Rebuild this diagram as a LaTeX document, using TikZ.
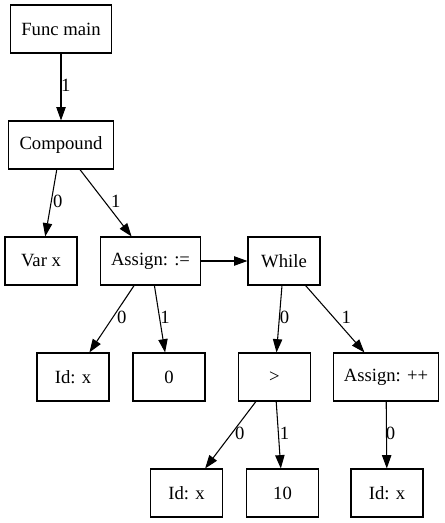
\documentclass[tikz,border=0pt]{standalone}
\usepackage{fontspec}
\setmainfont{Liberation Serif}
\usetikzlibrary{arrows.meta}
\tikzset{
	box/.style={draw=black, line width=0.8pt, minimum width=54pt, minimum height=36pt, inner xsep=8pt, font=\fontsize{14pt}{16pt}\selectfont},
	edge/.style={draw=black, line width=0.8pt, -{Triangle[length=10pt,width=7pt]}},
	lbl/.style={font=\fontsize{14pt}{16pt}\selectfont, inner sep=0pt, yshift=1pt}
}
\begin{document}
\begin{tikzpicture}[x=0.75pt,y=-0.75pt]
		\useasboundingbox (0,0) rectangle (444,523);
		\node[box] (main) at (61,29) {Func main};
		\node[box] (compound) at (61,145) {Compound};
		\node[box] (varx) at (41,261) {Var x};
		\node[box] (assign) at (150.5,261) {Assign: :=};
		\node[box] (while) at (284,261) {While};
		\node[box] (idA) at (73,377) {Id: x};
		\node[box] (zero) at (169,377) {0};
		\node[box] (gt) at (274.5,377) {>};
		\node[box] (incr) at (386,377) {Assign: ++};
		\node[box] (idB) at (186.5,493) {Id: x};
		\node[box] (ten) at (282.5,493) {10};
		\node[box] (idC) at (387,493) {Id: x};
		
		\draw[edge] (main) -- node[lbl, xshift=3.5pt]{1} (compound);
		\draw[edge] (compound) -- node[lbl, xshift=5pt]{0} (varx);
		\draw[edge] (compound) -- node[lbl, xshift=7.5pt]{1} (assign);
		
		\draw[edge] (assign) -- (while);
		\draw[edge] (assign) -- node[lbl, xshift=7.5pt]{0} (idA);
		\draw[edge] (assign) -- node[lbl, xshift=4pt]{1} (zero);
		
		\draw[edge] (while) -- node[lbl, xshift=4pt]{0} (gt);
		\draw[edge] (while) -- node[lbl, xshift=8.5pt]{1} (incr);
		
		\draw[edge] (gt) -- node[lbl, xshift=7pt]{0} (idB);
		\draw[edge] (gt) -- node[lbl, xshift=4.5pt]{1} (ten);
		\draw[edge] (incr) -- node[lbl, xshift=3pt]{0} (idC);
	\end{tikzpicture}
\end{document}
